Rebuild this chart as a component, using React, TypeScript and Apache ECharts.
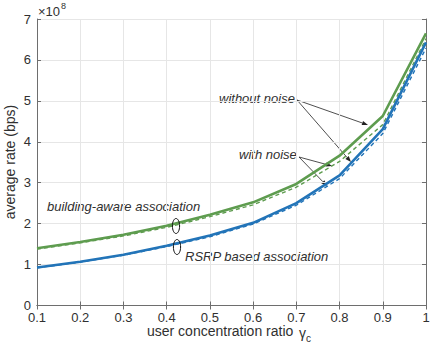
import React, { useEffect, useRef } from "react";
import * as echarts from "echarts";

const ratios = [0.1, 0.2, 0.3, 0.4, 0.5, 0.6, 0.7, 0.8, 0.9, 1.0];
const buildingNoNoise = [1.40, 1.55, 1.73, 1.95, 2.22, 2.52, 2.97, 3.66, 4.63, 6.65];
const buildingNoise = [1.38, 1.53, 1.70, 1.91, 2.17, 2.46, 2.89, 3.52, 4.42, 6.52];
const rsrpNoNoise = [0.93, 1.07, 1.24, 1.46, 1.71, 2.02, 2.50, 3.18, 4.31, 6.43];
const rsrpNoise = [0.92, 1.06, 1.23, 1.44, 1.68, 1.99, 2.45, 3.10, 4.20, 6.29];
const yTicks = [0, 1, 2, 3, 4, 5, 6, 7];

const GREEN = "#5e9c4f";
const BLUE = "#2274b8";
const FONT = "'Liberation Sans', Arial, Helvetica, sans-serif";
const TXT = "#303030";

function pairs(ys: number[]) {
  return ratios.map((x, i) => [x, ys[i]]);
}

function arrow(x1: number, y1: number, x2: number, y2: number) {
  const ang = Math.atan2(y2 - y1, x2 - x1);
  const L = 6, W = 2.2;
  const bx = x2 - L * Math.cos(ang), by = y2 - L * Math.sin(ang);
  const px = -Math.sin(ang) * W, py = Math.cos(ang) * W;
  return [
    { type: "line", shape: { x1, y1, x2: bx, y2: by }, style: { stroke: "#222", lineWidth: 0.8 }, silent: true },
    {
      type: "polygon",
      shape: { points: [[x2, y2], [bx + px, by + py], [bx - px, by - py]] },
      style: { fill: "#222" },
      silent: true,
    },
  ];
}

export default function App() {
  const ref = useRef<HTMLDivElement>(null);
  useEffect(() => {
    if (!ref.current) return;
    const chart = echarts.init(ref.current, undefined, { renderer: "svg" });
    const axisCommon = {
      type: "value" as const,
      axisLine: { show: true, lineStyle: { color: "#6e6e6e", width: 1 } },
      axisTick: { show: true, inside: true, length: 4, lineStyle: { color: "#6e6e6e" } },
    };
    const solid = (name: string, ys: number[], color: string) => ({
      name, type: "line", data: pairs(ys), showSymbol: false, symbol: "none",
      lineStyle: { color, width: 2.6 }, itemStyle: { color }, z: 3,
    });
    const dashed = (name: string, ys: number[], color: string) => ({
      name, type: "line", data: pairs(ys), showSymbol: false, symbol: "none",
      lineStyle: { color, width: 1.4, type: [4, 3] }, itemStyle: { color }, z: 2,
    });
    const ann: any[] = [
      { type: "text", left: 219, top: 92, style: { text: "without noise", font: `italic 13px ${FONT}`, fill: TXT } },
      { type: "text", left: 239, top: 148, style: { text: "with noise", font: `italic 13px ${FONT}`, fill: TXT } },
      { type: "text", left: 47, top: 200, style: { text: "building-aware association", font: `italic 13px ${FONT}`, fill: TXT } },
      { type: "text", left: 185, top: 250, style: { text: "RSRP based association", font: `italic 13px ${FONT}`, fill: TXT } },
      ...arrow(297, 100, 368, 125),
      ...arrow(297, 100, 351, 162),
      ...arrow(299, 157, 332, 166),
      ...arrow(299, 157, 327, 186),
      { type: "ellipse", shape: { cx: 176, cy: 226, rx: 3.6, ry: 7.5 }, style: { stroke: "#111", fill: "none", lineWidth: 1 }, z: 10 },
      { type: "ellipse", shape: { cx: 177, cy: 247, rx: 3.6, ry: 7.5 }, style: { stroke: "#111", fill: "none", lineWidth: 1 }, z: 10 },
      { type: "text", left: 38, top: 5, style: { text: "×10", font: `13px ${FONT}`, fill: TXT } },
      { type: "text", left: 61, top: 1, style: { text: "8", font: `9px ${FONT}`, fill: TXT } },
      { type: "text", left: 147, top: 324, style: { text: "user concentration ratio", font: `14px ${FONT}`, fill: TXT } },
      { type: "text", left: 299, top: 326, style: { text: "γ", font: `14px ${FONT}`, fill: TXT } },
      { type: "text", left: 306, top: 333, style: { text: "c", font: `10px ${FONT}`, fill: TXT } },
      {
        type: "text", x: 10, y: 162, rotation: Math.PI / 2,
        style: { text: "average rate (bps)", font: `14px ${FONT}`, fill: TXT, align: "center", verticalAlign: "middle" },
      },
    ];
    chart.setOption({
      animation: false,
      backgroundColor: "#fff",
      grid: { left: 37, right: 10, top: 19, bottom: 43.5, show: false },
      xAxis: [
        {
          ...axisCommon, position: "bottom", min: 0.1, max: 1, interval: 0.1,
          axisLabel: {
            color: TXT, fontSize: 13, fontFamily: FONT, margin: 5,
            formatter: (v: number) => (Math.abs(v - 1) < 1e-6 ? "1" : v.toFixed(1)),
          },
          splitLine: { show: true, lineStyle: { color: "#e6e6e6", width: 1 } },
        },
        {
          ...axisCommon, position: "top", min: 0.1, max: 1, interval: 0.1,
          axisLabel: { show: false }, splitLine: { show: false },
        },
      ],
      yAxis: [
        {
          ...axisCommon, position: "left", min: yTicks[0], max: yTicks[yTicks.length - 1], interval: 1,
          axisLabel: { color: TXT, fontSize: 13, fontFamily: FONT, margin: 6 },
          splitLine: { show: true, lineStyle: { color: "#e6e6e6", width: 1 } },
        },
        {
          ...axisCommon, position: "right", min: yTicks[0], max: yTicks[yTicks.length - 1], interval: 1,
          axisLabel: { show: false }, splitLine: { show: false },
        },
      ],
      series: [
        dashed("building-aware, with noise", buildingNoise, GREEN),
        dashed("RSRP, with noise", rsrpNoise, BLUE),
        solid("building-aware, without noise", buildingNoNoise, GREEN),
        solid("RSRP, without noise", rsrpNoNoise, BLUE),
      ],
      graphic: ann,
    });
    return () => chart.dispose();
  }, []);
  return (
    <div
      ref={ref}
      style={{ position: "fixed", left: 0, top: 0, width: 436, height: 349, background: "#fff" }}
    />
  );
}
